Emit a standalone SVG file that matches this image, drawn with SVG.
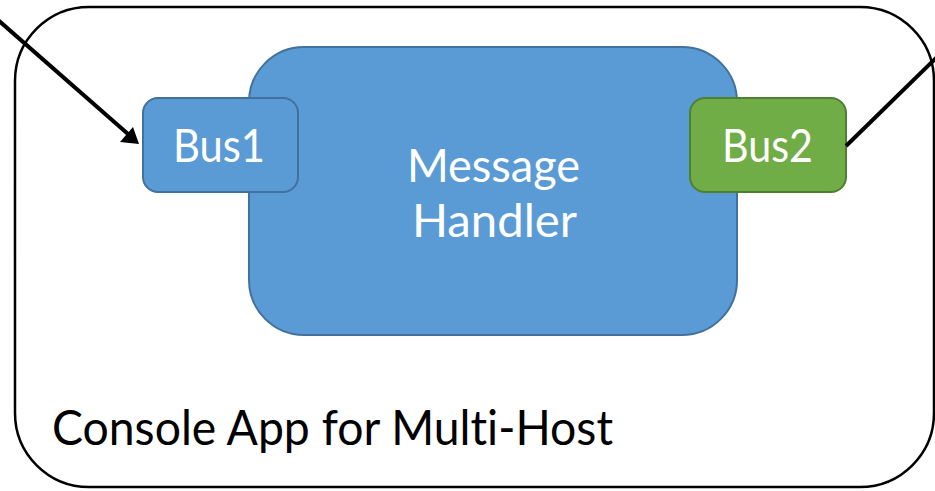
<svg xmlns="http://www.w3.org/2000/svg" width="935" height="491" viewBox="0 0 935 491">
  <style>
    .frame { fill: #ffffff; stroke: #000000; stroke-width: 2.5; }
    .blue { fill: #5B9BD5; stroke: #41719C; stroke-width: 2; }
    .green { fill: #70AD47; stroke: #507E32; stroke-width: 2; }
    text { font-variant-ligatures: none; font-feature-settings: "liga" 0; }
    .lbl { font-family: Lato, "Open Sans", "DejaVu Sans", sans-serif; font-size: 47px; fill: #ffffff; }
    .title { font-family: Lato, "Open Sans", "DejaVu Sans", sans-serif; font-size: 48px; fill: #000000; }
    .wire { stroke: #000000; stroke-width: 4; fill: none; }
  </style>
  <rect width="935" height="491" fill="#ffffff"/>

  <!-- host container -->
  <g id="console-app">
    <rect class="frame" x="15" y="7" width="919" height="480" rx="74" ry="74"/>
    <text class="title" x="52" y="445" textLength="561" lengthAdjust="spacingAndGlyphs">Console App for Multi-Host</text>
  </g>

  <!-- central handler -->
  <g id="message-handler">
    <rect class="blue" x="249" y="47" width="488" height="288" rx="55" ry="55"/>
    <text class="lbl" x="407" y="182" textLength="173" lengthAdjust="spacingAndGlyphs">Message</text>
    <text class="lbl" x="412" y="237" textLength="165" lengthAdjust="spacingAndGlyphs">Handler</text>
  </g>

  <!-- input bus -->
  <g id="bus1">
    <rect class="blue" x="143" y="98" width="155" height="94" rx="15" ry="15"/>
    <text class="lbl" x="173" y="162" textLength="92" lengthAdjust="spacingAndGlyphs">Bus1</text>
  </g>

  <!-- output bus -->
  <g id="bus2">
    <rect class="green" x="690" y="98" width="156" height="94" rx="15" ry="15"/>
    <text class="lbl" x="722" y="162" textLength="91" lengthAdjust="spacingAndGlyphs">Bus2</text>
  </g>

  <!-- connectors -->
  <g id="connectors">
    <line class="wire" x1="-2" y1="20" x2="128" y2="134"/>
    <polygon points="139,144 120,142 133,127" fill="#000000"/>
    <line class="wire" x1="846" y1="146" x2="937" y2="57"/>
  </g>
</svg>
